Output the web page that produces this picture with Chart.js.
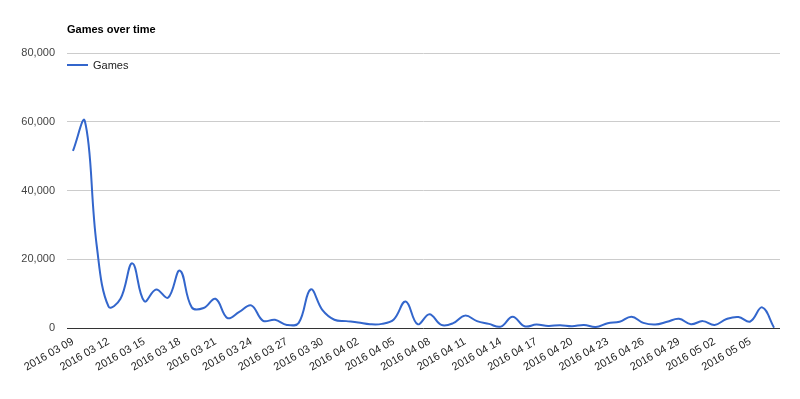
<!DOCTYPE html>
<html>
<head>
<meta charset="utf-8">
<script src="https://cdn.jsdelivr.net/npm/chart.js@4"></script>
<style>
html,body{margin:0;padding:0;background:#fff;}
#wrap{width:800px;height:399px;}
</style>
</head>
<body>
<div id="wrap"><canvas id="c" width="800" height="399"></canvas></div>
<script>
const chartTitle = "Games over time";
const seriesName = "Games";
const categories = [
 "2016 03 09","2016 03 10","2016 03 11","2016 03 12","2016 03 13","2016 03 14","2016 03 15","2016 03 16","2016 03 17","2016 03 18",
 "2016 03 19","2016 03 20","2016 03 21","2016 03 22","2016 03 23","2016 03 24","2016 03 25","2016 03 26","2016 03 27","2016 03 28",
 "2016 03 29","2016 03 30","2016 03 31","2016 04 01","2016 04 02","2016 04 03","2016 04 04","2016 04 05","2016 04 06","2016 04 07",
 "2016 04 08","2016 04 09","2016 04 10","2016 04 11","2016 04 12","2016 04 13","2016 04 14","2016 04 15","2016 04 16","2016 04 17",
 "2016 04 18","2016 04 19","2016 04 20","2016 04 21","2016 04 22","2016 04 23","2016 04 24","2016 04 25","2016 04 26","2016 04 27",
 "2016 04 28","2016 04 29","2016 04 30","2016 05 01","2016 05 02","2016 05 03","2016 05 04","2016 05 05","2016 05 06","2016 05 07"
];
const games = [
 51500,60200,24000,6200,8500,18800,7800,11200,8800,16700,
 6000,5800,8500,2900,4700,6600,2100,2400,900,1500,
 11200,5200,2400,2000,1600,1100,1200,2500,7700,1100,
 4000,900,1400,3600,2000,1200,400,3300,500,1000,
 600,800,500,900,300,1400,1800,3300,1500,1000,
 1800,2700,1100,2000,900,2600,3200,1900,6000,100
];
const yTicks = [0,20000,40000,60000,80000];

const FONT = "'Liberation Sans', Arial, sans-serif";
const LINE_COLOR = "#3366cc";

const titleLegendPlugin = {
  id: 'titleLegend',
  afterDraw(chart) {
    const ctx = chart.ctx;
    const ca = chart.chartArea;
    ctx.save();
    ctx.fillStyle = '#000';
    ctx.font = "bold 11px " + FONT;
    ctx.textBaseline = 'middle';
    ctx.textAlign = 'left';
    ctx.fillText(chartTitle, ca.left, 30);
    const ds = chart.data.datasets[0];
    ctx.strokeStyle = ds.borderColor;
    ctx.lineWidth = 2;
    ctx.beginPath();
    ctx.moveTo(ca.left, 65);
    ctx.lineTo(ca.left + 21, 65);
    ctx.stroke();
    ctx.fillStyle = '#222';
    ctx.font = "11px " + FONT;
    ctx.fillText(ds.label, ca.left + 26, 65.5);
    ctx.restore();
  }
};

new Chart(document.getElementById('c'), {
  type: 'line',
  data: {
    labels: categories,
    datasets: [{
      label: seriesName,
      data: games,
      borderColor: LINE_COLOR,
      backgroundColor: LINE_COLOR,
      borderWidth: 2,
      pointRadius: 0,
      pointHoverRadius: 0,
      tension: 0.4,
      fill: false
    }]
  },
  options: {
    responsive: false,
    animation: false,
    layout: { padding: { top: 53, right: 20, left: 0, bottom: 0 } },
    plugins: {
      legend: { display: false },
      title: { display: false },
      tooltip: { enabled: false }
    },
    scales: {
      x: {
        type: 'category',
        offset: true,
        grid: { display: false, drawTicks: false },
        border: { display: false },
        ticks: {
          autoSkip: false,
          maxRotation: 30,
          minRotation: 30,
          padding: 7,
          color: '#222',
          font: { family: FONT, size: 11 },
          callback: function(v, i) { return (i % 3 === 0) ? categories[i] : null; }
        },
        afterFit(scale) { scale.height = 71; }
      },
      y: {
        min: 0,
        max: 80000,
        afterBuildTicks(scale) { scale.ticks = yTicks.map(v => ({ value: v })); },
        grid: {
          color: ctx => (ctx.tick && ctx.tick.value === 0) ? '#333' : '#ccc',
          drawTicks: false,
          lineWidth: 1
        },
        border: { display: false },
        ticks: {
          padding: 12,
          color: '#444',
          font: { family: FONT, size: 11 },
          callback: v => v.toLocaleString('en-US')
        },
        afterFit(scale) { scale.width = 67; }
      }
    }
  },
  plugins: [titleLegendPlugin]
});
</script>
</body>
</html>
